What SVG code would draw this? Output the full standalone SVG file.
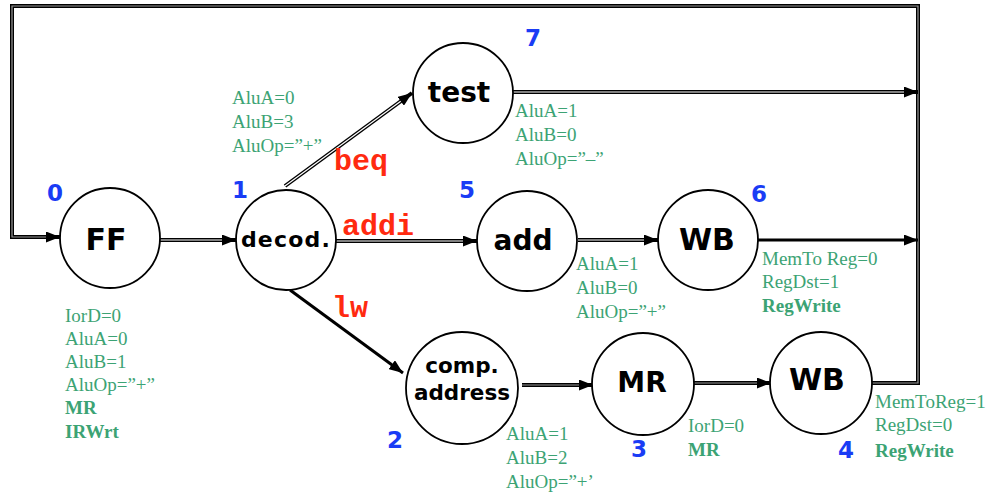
<svg xmlns="http://www.w3.org/2000/svg" width="991" height="493" viewBox="0 0 991 493">
  <style>
    .node { fill: #ffffff; stroke: #000000; stroke-width: 1.8; }
    .lbl { font-family: "DejaVu Sans", "Liberation Sans", sans-serif; font-weight: bold; fill: #000000; text-anchor: middle; }
    .num { font-family: "DejaVu Sans", "Liberation Sans", sans-serif; font-weight: bold; font-size: 23px; fill: #1a3cf5; }
    .ann { font-family: "Liberation Serif", "Times New Roman", serif; font-size: 19px; fill: #3ca374; }
    .ann .b { font-weight: bold; }
    .op { font-family: "Liberation Mono", "Courier New", monospace; font-weight: bold; font-size: 30px; fill: #ff2a10; }
    .out { fill: none; stroke: #000000; stroke-width: 4; }
    .in { fill: none; stroke: #ffffff; stroke-width: 1.2; }
    .ing { fill: none; stroke: #9a9a9a; stroke-width: 1.2; }
    .solid { fill: none; stroke: #000000; stroke-width: 3; }
  </style>
  <defs>
    <marker id="ah" viewBox="0 0 14 11" refX="14" refY="5.5" markerWidth="14" markerHeight="11" orient="auto" markerUnits="userSpaceOnUse">
      <path d="M0,0 L14,5.5 L0,11 z" fill="#000000"/>
    </marker>
  </defs>

  <g id="connectors">
    <!-- return loop from WB (4) back to FF -->
    <path class="out" d="M872,383 H918 V6 H12 V237 H60" marker-end="url(#ah)"/>
    <path class="ing" d="M872,383 H918 V6 H12 V237 H46"/>
    <!-- test to return line -->
    <path class="out" d="M513,92 H918" marker-end="url(#ah)"/>
    <path class="in" d="M513,92 H904"/>
    <!-- WB (6) to return line -->
    <path class="solid" d="M758,240 H918" marker-end="url(#ah)"/>
    <!-- FF to decod. -->
    <path class="out" d="M160,240 H236" marker-end="url(#ah)"/>
    <path class="in" d="M160,240 H222"/>
    <!-- decod. to test (beq) -->
    <path class="out" d="M285,186 L412,93" marker-end="url(#ah)"/>
    <path class="in" d="M285,186 L400.7,101.3"/>
    <!-- decod. to add (addi) -->
    <path class="out" d="M336,241 H477" marker-end="url(#ah)"/>
    <path class="in" d="M336,241 H463"/>
    <!-- add to WB (6) -->
    <path class="out" d="M578,240 H658" marker-end="url(#ah)"/>
    <path class="in" d="M578,240 H644"/>
    <!-- decod. to comp. address (lw) -->
    <path class="solid" d="M290,290 L403,373" marker-end="url(#ah)"/>
    <!-- comp. address to MR -->
    <path class="out" d="M522,385 H593" marker-end="url(#ah)"/>
    <path class="ing" d="M522,385 H579"/>
    <!-- MR to WB (4) -->
    <path class="out" d="M693,383 H771" marker-end="url(#ah)"/>
    <path class="ing" d="M693,383 H757"/>
    <!-- transition labels -->
    <text class="op" x="334" y="170">beq</text>
    <text class="op" x="342" y="235">addi</text>
    <text class="op" x="332" y="317">lw</text>
  </g>

  <g id="state0">
    <circle class="node" cx="110" cy="238" r="50"/>
    <text class="lbl" x="106" y="250" font-size="30">FF</text>
    <text class="num" x="47" y="201">0</text>
    <text class="ann" x="65">
      <tspan x="65" y="322">IorD=0</tspan>
      <tspan x="65" y="345">AluA=0</tspan>
      <tspan x="65" y="368">AluB=1</tspan>
      <tspan x="65" y="391">AluOp=”+”</tspan>
      <tspan class="b" x="65" y="414">MR</tspan>
      <tspan class="b" x="65" y="438">IRWrt</tspan>
    </text>
  </g>

  <g id="state1">
    <circle class="node" cx="286" cy="240" r="50"/>
    <text class="lbl" x="286" y="247" font-size="22" letter-spacing="1.2">decod.</text>
    <text class="num" x="232" y="198">1</text>
    <text class="ann">
      <tspan x="232" y="104">AluA=0</tspan>
      <tspan x="232" y="128">AluB=3</tspan>
      <tspan x="232" y="152">AluOp=”+”</tspan>
    </text>
  </g>

  <g id="state7">
    <circle class="node" cx="463" cy="93" r="50"/>
    <text class="lbl" x="459" y="102" font-size="28">test</text>
    <text class="num" x="525" y="46">7</text>
    <text class="ann">
      <tspan x="515" y="117">AluA=1</tspan>
      <tspan x="515" y="141">AluB=0</tspan>
      <tspan x="515" y="165">AluOp=”–”</tspan>
    </text>
  </g>

  <g id="state5">
    <circle class="node" cx="527" cy="241" r="50"/>
    <text class="lbl" x="523" y="250" font-size="28">add</text>
    <text class="num" x="459" y="198">5</text>
    <text class="ann">
      <tspan x="576" y="270">AluA=1</tspan>
      <tspan x="576" y="294">AluB=0</tspan>
      <tspan x="576" y="318">AluOp=”+”</tspan>
    </text>
  </g>

  <g id="state6">
    <circle class="node" cx="708" cy="240" r="50"/>
    <text class="lbl" x="707" y="250" font-size="30">WB</text>
    <text class="num" x="751" y="202">6</text>
    <text class="ann">
      <tspan x="762" y="265">MemTo Reg=0</tspan>
      <tspan x="762" y="288">RegDst=1</tspan>
      <tspan class="b" x="762" y="312">RegWrite</tspan>
    </text>
  </g>

  <g id="state2">
    <circle class="node" cx="462" cy="388" r="56"/>
    <text class="lbl" x="462" y="373" font-size="21.5">comp.</text>
    <text class="lbl" x="462" y="400" font-size="21.5">address</text>
    <text class="num" x="387" y="448">2</text>
    <text class="ann">
      <tspan x="506" y="440">AluA=1</tspan>
      <tspan x="506" y="464">AluB=2</tspan>
      <tspan x="506" y="488">AluOp=”+’</tspan>
    </text>
  </g>

  <g id="state3">
    <circle class="node" cx="643" cy="384" r="51"/>
    <text class="lbl" x="642" y="392" font-size="28">MR</text>
    <text class="num" x="631" y="457">3</text>
    <text class="ann">
      <tspan x="688" y="432">IorD=0</tspan>
      <tspan class="b" x="688" y="456">MR</tspan>
    </text>
  </g>

  <g id="state4">
    <circle class="node" cx="821" cy="383" r="51"/>
    <text class="lbl" x="817" y="390" font-size="30">WB</text>
    <text class="num" x="838" y="458">4</text>
    <text class="ann">
      <tspan x="875" y="408">MemToReg=1</tspan>
      <tspan x="875" y="431">RegDst=0</tspan>
      <tspan class="b" x="875" y="457">RegWrite</tspan>
    </text>
  </g>
</svg>
